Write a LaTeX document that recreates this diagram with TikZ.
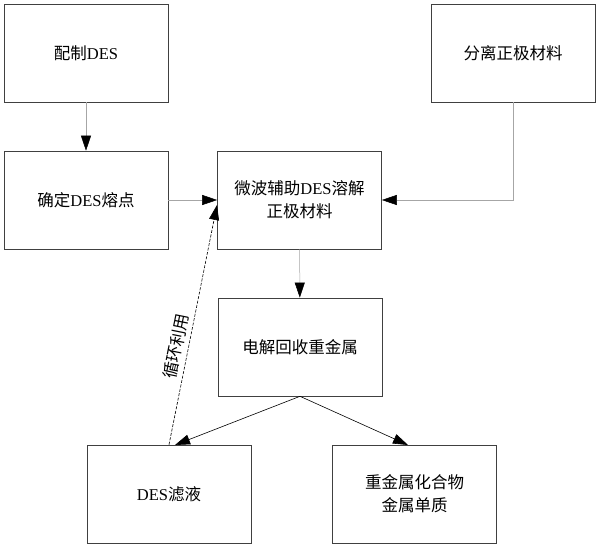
\documentclass[tikz,border=0pt]{standalone}
\usepackage{fontspec}
\setmainfont{Liberation Serif}
\newfontfamily\cjk{Noto Sans CJK SC}
\usepackage{tikz}
\usetikzlibrary{arrows.meta,positioning}

\begin{document}
\begin{tikzpicture}[x=1pt,y=-1pt]
			\tikzstyle{Box}		= [rectangle, draw=black!75, line width=0.6pt, minimum width=164pt, minimum height=98pt, inner sep=0pt, align=center, font=\fontsize{16.5}{23}\selectfont]
			\tikzstyle{Flow}	= [line width=0.5pt, draw=black!35, -{Triangle[length=15pt,width=10pt,black]}]
			\tikzstyle{Out}		= [line width=0.6pt, draw=black, -{Triangle[length=15pt,width=10pt,black]}]
			\tikzstyle{Back}	= [line width=0.6pt, draw=black, dashed, dash pattern=on 3pt off 1.5pt, -{Triangle[length=15pt,width=10pt,black]}]

			\useasboundingbox (0,0) rectangle (600,549);

			\node (prep) at (86,53) [Box] {{\cjk 配制}DES};
			\node (sep) at (513,53) [Box] {{\cjk 分离正极材料}};
			\node (melt) at (86,200) [Box] {{\cjk 确定}DES{\cjk 熔点}};
			\node (dis) at (299.5,200) [Box] {{\cjk 微波辅助}DES{\cjk 溶解}\\{\cjk 正极材料}};
			\node (elec) at (300,347) [Box] {{\cjk 电解回收重金属}};
			\node (filt) at (169,494) [Box] {DES{\cjk 滤液}};
			\node (metal) at (414.5,494) [Box] {{\cjk 重金属化合物}\\{\cjk 金属单质}};

			\coordinate (filtin) at (175,445);
			\coordinate (metalin) at (408,445);
			\coordinate (back) at (217,205);

			\draw [Flow] (prep) to (melt);
			\draw [Flow] (melt) to (dis);
			\draw [Flow] (sep.south) |- (dis.east);
			\draw [Flow] (dis) to (elec);
			\draw [Out] (elec.south) to (filtin);
			\draw [Out] (elec.south) to (metalin);
			\draw [Back] (filt.north) to node [pos=0.4, sloped, above=1pt, font=\fontsize{16.5}{18}\selectfont] {{\cjk 循环利用}} (back);
		\end{tikzpicture}
\end{document}
